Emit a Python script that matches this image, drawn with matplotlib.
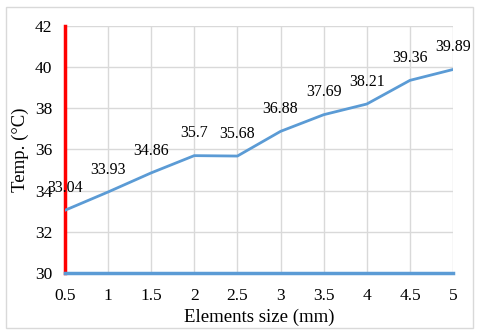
import matplotlib.pyplot as plt
import matplotlib.patches as patches

plt.rcParams['font.family'] = ['Liberation Serif', 'DejaVu Serif']

sizes = ['0.5', '1', '1.5', '2', '2.5', '3', '3.5', '4', '4.5', '5']
temps = [33.04, 33.93, 34.86, 35.7, 35.68, 36.88, 37.69, 38.21, 39.36, 39.89]
labels = ['33.04', '33.93', '34.86', '35.7', '35.68', '36.88', '37.69', '38.21', '39.36', '39.89']

blue = '#5B9BD5'
fig = plt.figure(figsize=(4.8, 3.34), dpi=100)
ax = fig.add_axes([0.135, 0.183, 0.809, 0.739])

x = list(range(len(sizes)))
ax.plot(x, temps, color=blue, lw=2, zorder=3)
for xi, t, lab in zip(x, temps, labels):
    ax.annotate(lab, (xi, t), xytext=(0, 16), textcoords='offset points',
                ha='center', va='center', fontsize=11.5, zorder=4)

ax.set_xlim(0, len(sizes) - 1)
ax.set_ylim(30, 42)
ax.set_xticks(x)
ax.set_xticklabels(sizes)
ax.set_yticks(range(30, 43, 2))
ax.grid(True, color='#D9D9D9', lw=1)
ax.set_axisbelow(True)
for s in ['top', 'right']:
    ax.spines[s].set_visible(False)
ax.spines['left'].set_color('red')
ax.spines['left'].set_linewidth(2.5)
ax.spines['bottom'].set_color(blue)
ax.spines['bottom'].set_linewidth(2.5)
ax.tick_params(length=0, labelsize=12.5)
ax.tick_params(axis='x', pad=11)
ax.tick_params(axis='y', pad=9)
ax.set_xlabel('Elements size (mm)', fontsize=13.5, labelpad=3)
ax.set_ylabel('Temp. (°C)', fontsize=13.5, labelpad=4)

fig.patches.append(patches.Rectangle((0.012, 0.018), 0.973, 0.962, transform=fig.transFigure,
                                     fill=False, edgecolor='#D9D9D9', lw=1))

fig.savefig('out.png', dpi=100)
